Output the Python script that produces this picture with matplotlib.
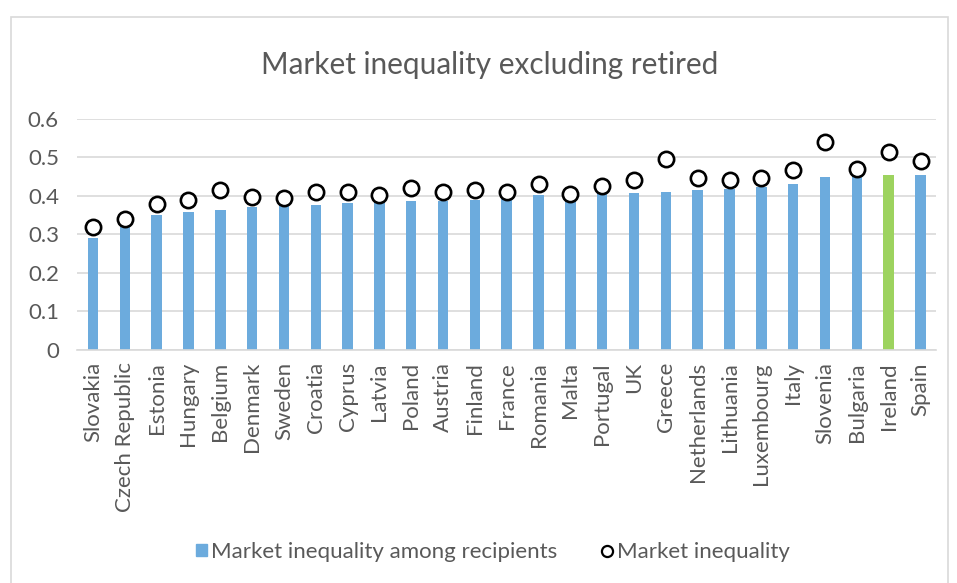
import numpy as np
import matplotlib.pyplot as plt
from matplotlib.patches import Rectangle
from matplotlib.lines import Line2D

plt.rcParams['font.family'] = ['Lato', 'DejaVu Sans']

countries = ['Slovakia', 'Czech Republic', 'Estonia', 'Hungary', 'Belgium', 'Denmark',
             'Sweden', 'Croatia', 'Cyprus', 'Latvia', 'Poland', 'Austria', 'Finland',
             'France', 'Romania', 'Malta', 'Portugal', 'UK', 'Greece', 'Netherlands',
             'Lithuania', 'Luxembourg', 'Italy', 'Slovenia', 'Bulgaria', 'Ireland', 'Spain']

# market inequality among recipients (bars)
recipients = [0.290, 0.320, 0.350, 0.359, 0.362, 0.370, 0.376, 0.377, 0.380, 0.385,
              0.387, 0.387, 0.389, 0.400, 0.401, 0.405, 0.407, 0.406, 0.410, 0.415,
              0.417, 0.422, 0.430, 0.449, 0.452, 0.455, 0.455]

# market inequality (circles)
overall = [0.318, 0.340, 0.379, 0.388, 0.414, 0.396, 0.394, 0.409, 0.409, 0.403,
           0.419, 0.409, 0.416, 0.411, 0.430, 0.405, 0.426, 0.440, 0.497, 0.447,
           0.442, 0.447, 0.466, 0.540, 0.469, 0.514, 0.491]

highlight = 'Ireland'
blue = '#6cabdd'
green = '#9dd35f'
txt = '#595959'
grid = '#d9d9d9'

fig = plt.figure(figsize=(9.57, 5.83), dpi=100)
ax = fig.add_axes([0.0805, 0.4005, 0.898, 0.3955])

x = np.arange(len(countries))
cols = [green if c == highlight else blue for c in countries]
ax.bar(x, recipients, width=0.33, color=cols, zorder=2)
ax.plot(x, overall, linestyle='none', marker='o', markersize=11,
        markerfacecolor='white', markeredgecolor='black', markeredgewidth=1.9, zorder=3)

ax.set_xlim(-0.5, len(countries) - 0.5)
ax.set_ylim(0, 0.6)
ax.set_yticks(np.arange(0, 0.61, 0.1))
ax.set_yticklabels(['0', '0.1', '0.2', '0.3', '0.4', '0.5', '0.6'])
ax.set_xticks(x)
ax.set_xticklabels(countries, rotation=90)
ax.tick_params(axis='both', length=0, labelsize=16, colors=txt)
ax.tick_params(axis='x', pad=9)
ax.tick_params(axis='y', pad=13)
ax.grid(axis='y', color=grid, linewidth=1.2, zorder=0)
for s in ['top', 'right', 'left']:
    ax.spines[s].set_visible(False)
ax.spines['bottom'].set_color(grid)
ax.spines['bottom'].set_linewidth(1.2)

fig.text(0.512, 1 - 65 / 583, 'Market inequality excluding retired', ha='center', va='center',
         fontsize=21.4, color=txt)

handles = [Rectangle((0, 0), 1, 1, color=blue),
           Line2D([], [], linestyle='none', marker='o', markersize=8,
                  markerfacecolor='white', markeredgecolor='black', markeredgewidth=1.6)]
fig.legend(handles, ['Market inequality among recipients', 'Market inequality'],
           loc='center', bbox_to_anchor=(0.515, 1 - 552 / 583), ncol=2, frameon=False,
           fontsize=16, labelcolor=txt, handlelength=0.5, handleheight=0.5,
           handletextpad=0.2, columnspacing=2.0)

# outer chart border
fig.patches.append(Rectangle((11 / 957, -0.05), (948 - 11) / 957, 1.05 - 17 / 583,
                             transform=fig.transFigure, fill=False, edgecolor=grid,
                             linewidth=1.2))

fig.savefig('out.png', dpi=100)
